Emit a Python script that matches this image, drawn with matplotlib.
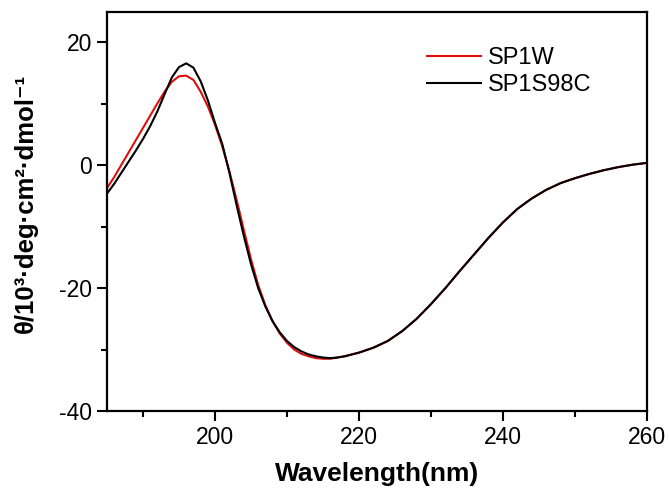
import matplotlib
matplotlib.use('Agg')
import matplotlib.pyplot as plt
from matplotlib.ticker import MultipleLocator

plt.rcParams['font.family'] = ['Liberation Sans', 'DejaVu Sans']
plt.rcParams['axes.unicode_minus'] = False

# longitudes de onda (nm)
wl = [185, 186, 187, 188, 189, 190, 191, 192, 193, 194, 195, 196, 197, 198, 199,
      200, 201, 202, 203, 204, 205, 206, 207, 208, 209, 210, 211, 212, 213, 214,
      215, 216, 217, 218, 219, 220, 222, 224, 226, 228, 230, 232, 234, 236, 238,
      240, 242, 244, 246, 248, 250, 252, 254, 256, 258, 260]

# SP1W (rojo)
sp1w = [-3.7, -1.9, 0.1, 2.1, 4.1, 6.1, 8.1, 10.1, 12.0, 13.6, 14.5, 14.6, 13.9, 12.0, 9.6,
        6.6, 3.1, -1.0, -5.6, -10.5, -15.3, -19.5, -22.8, -25.4, -27.4, -28.9, -30.0, -30.7, -31.1, -31.4,
        -31.5, -31.5, -31.3, -31.1, -30.8, -30.5, -29.7, -28.6, -27.0, -25.0, -22.6, -20.0, -17.2, -14.5, -11.8,
        -9.3, -7.1, -5.4, -4.0, -2.9, -2.1, -1.4, -0.8, -0.3, 0.1, 0.4]

# SP1S98C (negro)
sp1s98c = [-4.6, -3.0, -1.2, 0.6, 2.4, 4.3, 6.4, 8.8, 11.6, 14.3, 16.0, 16.6, 15.9, 13.7, 10.6,
           6.9, 3.5, -1.2, -6.5, -11.5, -16.1, -20.0, -23.0, -25.4, -27.2, -28.6, -29.6, -30.3, -30.8, -31.1,
           -31.3, -31.4, -31.3, -31.1, -30.8, -30.5, -29.7, -28.6, -27.0, -25.0, -22.6, -20.0, -17.2, -14.5, -11.8,
           -9.3, -7.1, -5.4, -4.0, -2.9, -2.1, -1.4, -0.8, -0.3, 0.1, 0.4]

fig = plt.figure(figsize=(6.69, 4.91), dpi=100)
ax = fig.add_axes([0.160, 0.163, 0.807, 0.813])

ax.plot(wl, sp1w, color='#e01010', lw=1.5, label='SP1W')
ax.plot(wl, sp1s98c, color='black', lw=1.5, label='SP1S98C')

ax.set_xlim(185, 260)
ax.set_ylim(-40, 25)
ax.xaxis.set_major_locator(MultipleLocator(20))
ax.xaxis.set_minor_locator(MultipleLocator(10))
ax.yaxis.set_major_locator(MultipleLocator(20))
ax.yaxis.set_minor_locator(MultipleLocator(10))
ax.tick_params(which='major', direction='out', length=7, width=1.5, labelsize=16.5, pad=4)
ax.tick_params(which='minor', direction='out', length=4, width=1.5)
for s in ax.spines.values():
    s.set_linewidth(1.6)

ax.set_xlabel('Wavelength(nm)', fontsize=19, fontweight='bold')
ax.xaxis.set_label_coords(0.5, -0.128)
ax.set_ylabel('θ/10³·deg·cm²·dmol⁻¹', fontsize=18.5, fontweight='bold')
ax.yaxis.set_label_coords(-0.128, 0.52)

ax.legend(loc='upper left', bbox_to_anchor=(0.575, 0.935), frameon=False, fontsize=17,
          handlelength=2.3, handletextpad=0.3, labelspacing=0.2, borderaxespad=0)

fig.savefig('out.png', dpi=100)
